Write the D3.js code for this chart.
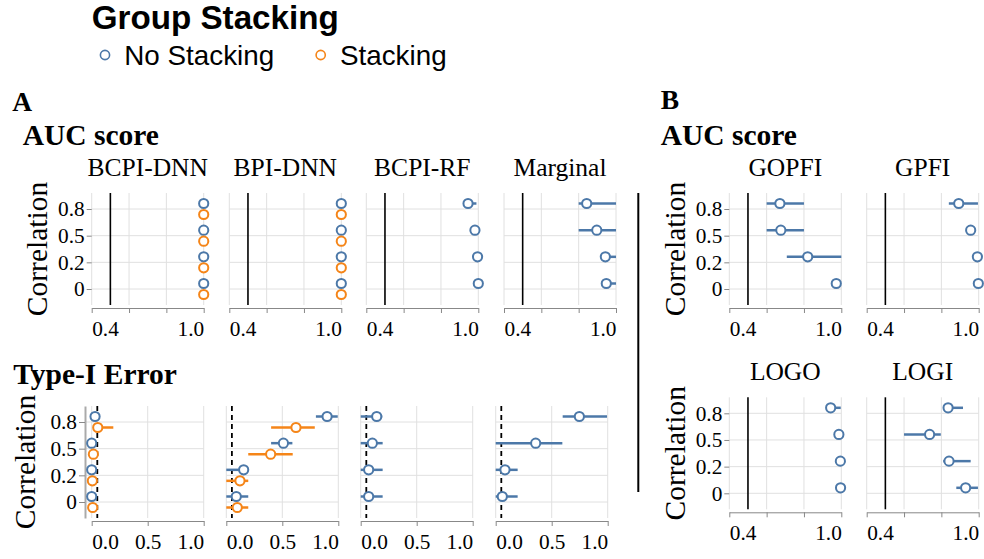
<!DOCTYPE html>
<html><head><meta charset="utf-8">
<script src="https://cdn.jsdelivr.net/npm/d3@7"></script>
<style>body{margin:0;background:#fff}</style>
</head><body><svg id="c" width="984" height="559"></svg>
<script>
// ---------- data ----------
const correlations = ["0.8", "0.5", "0.2", "0"];
const groups = ["No Stacking", "Stacking"];
const groupColors = ["#4c78a8", "#f58518"];
const methodsA = ["BCPI-DNN", "BPI-DNN", "BCPI-RF", "Marginal"];
const methodsB = ["GOPFI", "GPFI", "LOGO", "LOGI"];
const aucTicks = [0.4, 0.6, 0.8, 1.0];
const aucTickLabels = ["0.4", "", "", "1.0"];
const errTicks = [0.0, 0.5, 1.0];
const errTickLabels = ["0.0", "0.5", "1.0"];

// AUC score, panel A, [method][correlation]
const aucA_noStack_est = [[1, 1, 1, 1], [1, 1, 1, 1], [0.945, 0.982, 0.996, 1.0], [0.843, 0.897, 0.943, 0.948]];
const aucA_noStack_lo  = [[1, 1, 1, 1], [1, 1, 1, 1], [0.93, 0.975, 0.99, 0.998], [0.80, 0.80, 0.93, 0.935]];
const aucA_noStack_hi  = [[1, 1, 1, 1], [1, 1, 1, 1], [0.99, 0.99, 1.0, 1.0], [1.0, 1.0, 1.0, 1.0]];
const aucA_stack_est = [[1, 1, 1, 1], [1, 1, 1, 1], null, null];
const aucA_stack_lo  = [[1, 1, 1, 1], [1, 1, 1, 1], null, null];
const aucA_stack_hi  = [[1, 1, 1, 1], [1, 1, 1, 1], null, null];

// Type-I error, panel A
const errA_noStack_est = [[0.03, 0.0, 0.0, 0.0], [0.90, 0.51, 0.155, 0.089], [0.143, 0.104, 0.071, 0.071], [0.747, 0.357, 0.083, 0.059]];
const errA_noStack_lo  = [[0.03, 0.0, 0.0, 0.0], [0.80, 0.40, 0.0, 0.0], [0.0, 0.0, 0.0, 0.0], [0.598, 0.0, 0.0, 0.0]];
const errA_noStack_hi  = [[0.03, 0.0, 0.0, 0.0], [0.995, 0.59, 0.196, 0.196], [0.193, 0.196, 0.196, 0.196], [0.994, 0.595, 0.196, 0.196]];
const errA_stack_est = [[0.054, 0.015, 0.006, 0.009], [0.622, 0.396, 0.122, 0.098], null, null];
const errA_stack_lo  = [[0.02, 0.01, 0.0, 0.0], [0.40, 0.196, 0.0, 0.0], null, null];
const errA_stack_hi  = [[0.193, 0.02, 0.01, 0.01], [0.79, 0.593, 0.196, 0.196], null, null];

// AUC score, panel B (no stacking only)
const aucB_est = [[0.671, 0.676, 0.82, 0.973], [0.893, 0.957, 0.993, 0.998], [0.943, 0.987, 0.995, 0.996], [0.836, 0.737, 0.841, 0.93]];
const aucB_lo  = [[0.6, 0.6, 0.708, 0.973], [0.84, 0.95, 0.99, 0.998], [0.93, 0.985, 0.99, 0.995], [0.81, 0.6, 0.81, 0.88]];
const aucB_hi  = [[0.8, 0.8, 1.0, 0.973], [0.996, 0.965, 1.0, 1.0], [0.997, 0.99, 1.0, 1.0], [0.916, 0.797, 0.957, 0.996]];

// ---------- drawing ----------
const svg = d3.select("#c");
const SERIF = "'Liberation Serif', 'Times New Roman', serif";
const SANS = "'Liberation Sans', Arial, sans-serif";
const W = 112, H = 112;

function rows(est, lo, hi, mi) {
  if (!est || !est[mi]) return [];
  return correlations.map((c, i) => ({c, est: est[mi][i], lo: lo[mi][i], hi: hi[mi][i]}));
}

function panel(cfg) {
  const g = svg.append("g").attr("transform", `translate(${cfg.x0},${cfg.top})`);
  const x = d3.scaleLinear().domain(cfg.domain).range([0, W]).clamp(true);
  const y = d3.scalePoint().domain(correlations).range([0, H]).padding(0.6);
  const off = cfg.yOffset || 0;

  g.append("g").selectAll("line").data(cfg.ticks).join("line")
    .attr("x1", d => x(d)).attr("x2", d => x(d)).attr("y1", 0).attr("y2", H)
    .attr("stroke", "#e0e0e0").attr("stroke-width", 1);
  g.append("g").selectAll("line").data(correlations).join("line")
    .attr("x1", -off).attr("x2", W).attr("y1", d => y(d)).attr("y2", d => y(d))
    .attr("stroke", "#e0e0e0").attr("stroke-width", 1);

  g.append("line").attr("x1", x(cfg.ref)).attr("x2", x(cfg.ref)).attr("y1", 0).attr("y2", H)
    .attr("stroke", "#000").attr("stroke-width", cfg.dashed ? 1.8 : 1.6)
    .attr("stroke-dasharray", cfg.dashed ? "5,4" : null);

  const ax = g.append("g").attr("transform", `translate(0,${H + 3})`)
    .call(d3.axisBottom(x).tickValues(cfg.ticks).tickSize(5).tickSizeOuter(0)
      .tickFormat((d, i) => cfg.tickLabels[i]));
  ax.select(".domain").attr("stroke", "#888");
  ax.selectAll(".tick line").attr("stroke", "#888");
  ax.selectAll(".tick text").attr("font-family", SERIF).attr("font-size", 21.3).attr("fill", "#000")
    .attr("y", 27.5).attr("dy", 0)
    .attr("text-anchor", (d, i) => i === 0 ? "start" : (i === cfg.ticks.length - 1 ? "end" : "middle"));

  if (cfg.yAxis) {
    const ay = g.append("g").attr("transform", `translate(${-off},0)`)
      .call(d3.axisLeft(y).tickSize(off ? 6 : 5).tickPadding(2).tickSizeOuter(0));
    ay.select(".domain").attr("stroke", off ? "#aaa" : "none").attr("stroke-width", 2);
    ay.selectAll(".tick line").attr("stroke", "#888");
    ay.selectAll(".tick text").attr("font-family", SERIF).attr("font-size", 21.3).attr("fill", "#000");
    svg.append("text").attr("transform", `translate(${cfg.x0 - cfg.ytitleDx},${cfg.top + H / 2}) rotate(-90)`)
      .attr("text-anchor", "middle").attr("font-family", SERIF).attr("font-size", 29.5)
      .text("Correlation");
  }

  if (cfg.title) {
    g.append("text").attr("x", W / 2).attr("y", -17.5).attr("text-anchor", "middle")
      .attr("font-family", SERIF).attr("font-size", 25.5).text(cfg.title);
  }

  cfg.series.forEach((s, si) => {
    const dy = si === 0 ? -5.5 : 5.5;
    const sg = g.append("g");
    sg.selectAll("line").data(s.data).join("line")
      .attr("x1", d => x(d.lo)).attr("x2", d => x(d.hi))
      .attr("y1", d => y(d.c) + dy).attr("y2", d => y(d.c) + dy)
      .attr("stroke", groupColors[si]).attr("stroke-width", 2.5);
    sg.selectAll("circle").data(s.data).join("circle")
      .attr("cx", d => x(d.est)).attr("cy", d => y(d.c) + dy).attr("r", 4.6)
      .attr("fill", "#fff").attr("stroke", groupColors[si]).attr("stroke-width", 2);
  });
}

// Legend
svg.append("text").attr("x", 91.7).attr("y", 28.5).attr("font-family", SANS).attr("font-weight", "bold")
  .attr("font-size", 33.2).text("Group Stacking");
const legX = [105, 320.7];
groups.forEach((gname, i) => {
  svg.append("circle").attr("cx", legX[i]).attr("cy", 55).attr("r", 4.6)
    .attr("fill", "#fff").attr("stroke", groupColors[i]).attr("stroke-width", 1.6);
  svg.append("text").attr("x", legX[i] + 19.3).attr("y", 64.5).attr("font-family", SANS)
    .attr("font-size", 27.8).text(gname);
});

// headings
const heads = [["A", 12.3, 110.7, 27.5], ["AUC score", 22.7, 145, 29.5], ["Type-I Error", 13.3, 384, 29.5],
               ["B", 660.7, 109.3, 27.5], ["AUC score", 660.7, 145, 29.5]];
heads.forEach(h => svg.append("text").attr("x", h[1]).attr("y", h[2]).attr("font-family", SERIF)
  .attr("font-weight", "bold").attr("font-size", h[3]).text(h[0]));

// separator line
svg.append("line").attr("x1", 638.3).attr("x2", 638.3).attr("y1", 193).attr("y2", 492)
  .attr("stroke", "#000").attr("stroke-width", 2);

// Panel A, AUC row
const aX1 = [91.7, 229.3, 366.3, 504];
methodsA.forEach((m, mi) => panel({
  x0: aX1[mi], top: 193, domain: [0.4, 1.0], ticks: aucTicks, tickLabels: aucTickLabels,
  ref: 0.5, dashed: false, title: m, yAxis: mi === 0, ytitleDx: 45.2,
  series: [{data: rows(aucA_noStack_est, aucA_noStack_lo, aucA_noStack_hi, mi)},
           {data: rows(aucA_stack_est, aucA_stack_lo, aucA_stack_hi, mi)}]
}));

// Panel A, Type-I row
const aX2 = [91.7, 226.3, 360.7, 495.7];
methodsA.forEach((m, mi) => panel({
  x0: aX2[mi], top: 406, domain: [0.0, 1.0], ticks: errTicks, tickLabels: errTickLabels,
  ref: 0.05, dashed: true, title: null, yAxis: mi === 0, yOffset: mi === 0 ? 6.7 : 0, ytitleDx: 56.7,
  series: [{data: rows(errA_noStack_est, errA_noStack_lo, errA_noStack_hi, mi)},
           {data: rows(errA_stack_est, errA_stack_lo, errA_stack_hi, mi)}]
}));

// Panel B
const bX = [729.3, 866.7];
const bTop = [193, 193, 397.3, 397.3];
methodsB.forEach((m, mi) => panel({
  x0: bX[mi % 2], top: bTop[mi], domain: [0.4, 1.0], ticks: aucTicks, tickLabels: aucTickLabels,
  ref: 0.5, dashed: false, title: m, yAxis: mi % 2 === 0, ytitleDx: 44.3,
  series: [{data: rows(aucB_est, aucB_lo, aucB_hi, mi)}]
}));
</script></body></html>
